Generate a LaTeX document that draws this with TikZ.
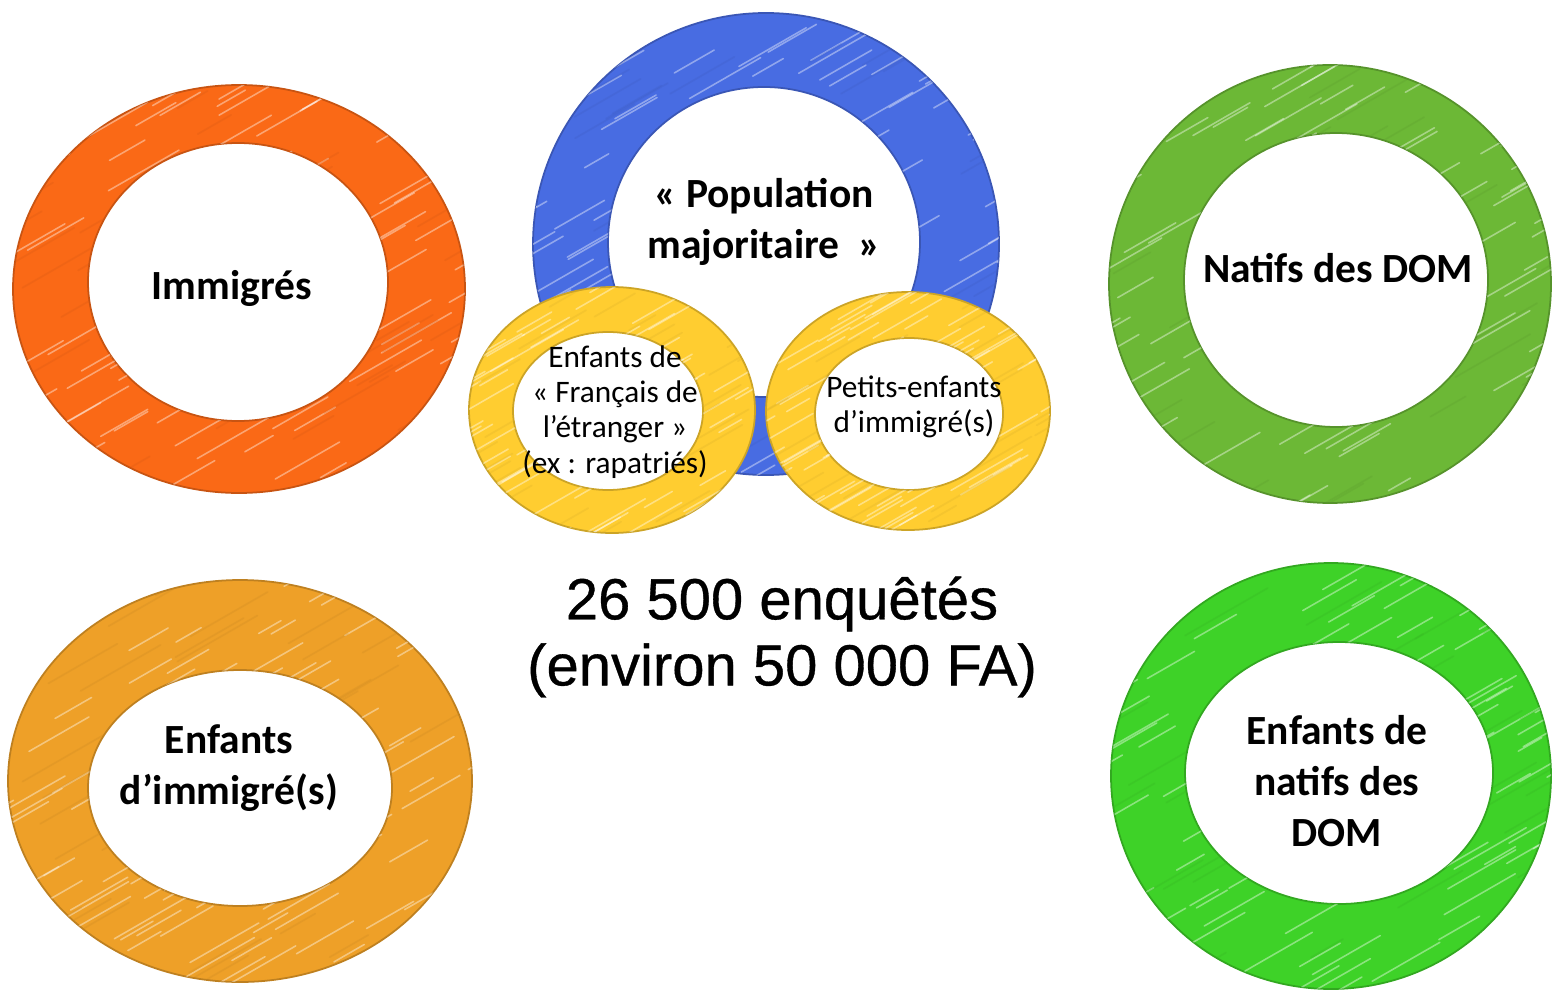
\documentclass[tikz,border=0pt]{standalone}
\usepackage{fontspec}
\setmainfont{Carlito}
\newfontfamily\arialf[FakeBold=0.6]{Liberation Sans}
\definecolor{cred}{RGB}{250,105,22}
\definecolor{corange}{RGB}{238,160,40}
\definecolor{cblue}{RGB}{72,108,226}
\definecolor{cyellow}{RGB}{255,205,48}
\definecolor{colive}{RGB}{108,184,54}
\definecolor{cgreen}{RGB}{62,210,40}
\tikzset{
  ringfill/.style={fill=#1, draw=#1!80!black, line width=0.5pt, even odd rule},
  biglabel/.style={font=\fontsize{11.8}{14.5}\selectfont\bfseries, align=center, inner sep=0pt},
  smalllabel/.style={font=\fontsize{8.9}{10}\selectfont, align=center, inner sep=0pt},
  countlabel/.style={font=\arialf\fontsize{16.5}{18.8}\selectfont, align=center, inner sep=0pt},
  hatchline/.style={white, opacity=0.4, line width=0.45pt, line cap=round}
}
% ring: #1 colour, #2 cx, #3 cy, #4 rx, #5 ry, #6 icx, #7 icy, #8 irx, #9 iry
\newcommand\sketchring[9]{%
  \fill[white] (#6,#7) ellipse [x radius=#8, y radius=#9];
  \fill[ringfill=#1] (#2,#3) ellipse [x radius=#4, y radius=#5] (#6,#7) ellipse [x radius=#8, y radius=#9];
  \begin{scope}[even odd rule]
    \clip (#2,#3) ellipse [x radius=#4, y radius=#5] (#6,#7) ellipse [x radius=#8, y radius=#9];
    \foreach \k in {1,...,120}{%
      \pgfmathsetmacro\hx{#2+(#4+40)*rand}%
      \pgfmathsetmacro\hy{#3+(#5+20)*rand}%
      \pgfmathsetmacro\hlen{25+60*rnd}%
      \draw[hatchline] (\hx,\hy) -- ++(0.87*\hlen,-0.5*\hlen);
    }
    \foreach \k in {1,...,50}{%
      \pgfmathsetmacro\hx{#2+(#4+40)*rand}%
      \pgfmathsetmacro\hy{#3+(#5+20)*rand}%
      \pgfmathsetmacro\hlen{30+70*rnd}%
      \draw[#1!85!black, opacity=0.25, line width=0.5pt, line cap=round] (\hx,\hy) -- ++(0.87*\hlen,-0.5*\hlen);
    }
  \end{scope}
}
\begin{document}
\begin{tikzpicture}[x=0.01cm, y=-0.01cm]
\pgfmathsetseed{12}
\useasboundingbox (0,0) rectangle (1552,991);
\fill[white] (0,0) rectangle (1552,991);

% rings
\sketchring{cred}{239}{289}{226}{204}{238}{282}{150}{139}
\sketchring{corange}{240}{781}{232}{201}{240}{788}{152}{118}
\sketchring{cblue}{766}{244}{233}{231}{764}{242}{156}{155}
\sketchring{cyellow}{612}{410}{143}{123}{608}{411}{95}{79}
\sketchring{cyellow}{908}{411}{142}{119}{909}{414}{94}{76}
\sketchring{colive}{1330}{284}{221}{219}{1336}{280}{152}{147}
\sketchring{cgreen}{1331}{776}{220}{213}{1339}{773}{154}{131}

% labels
\node[biglabel] (immig) at (232,288) {Immigrés};
\node[biglabel] (popmaj) at (764,222) {«~Population\\majoritaire~~»};
\node[biglabel] (enfimm) at (229,768) {Enfants\\d’immigré(s)};
\node[biglabel] (natdom) at (1338,268) {Natifs des DOM};
\node[biglabel] (enfdom) at (1337,781) {Enfants de\\natifs des\\DOM};
\node[smalllabel] (enffr) at (615,412) {Enfants de\\«~Français de\\l’étranger~»\\(ex~: rapatriés)};
\node[smalllabel] (petits) at (914,407) {Petits-enfants\\d’immigré(s)};
\node[countlabel] (count) at (782,637) {26 500 enquêtés\\(environ 50 000 FA)};
\end{tikzpicture}
\end{document}
